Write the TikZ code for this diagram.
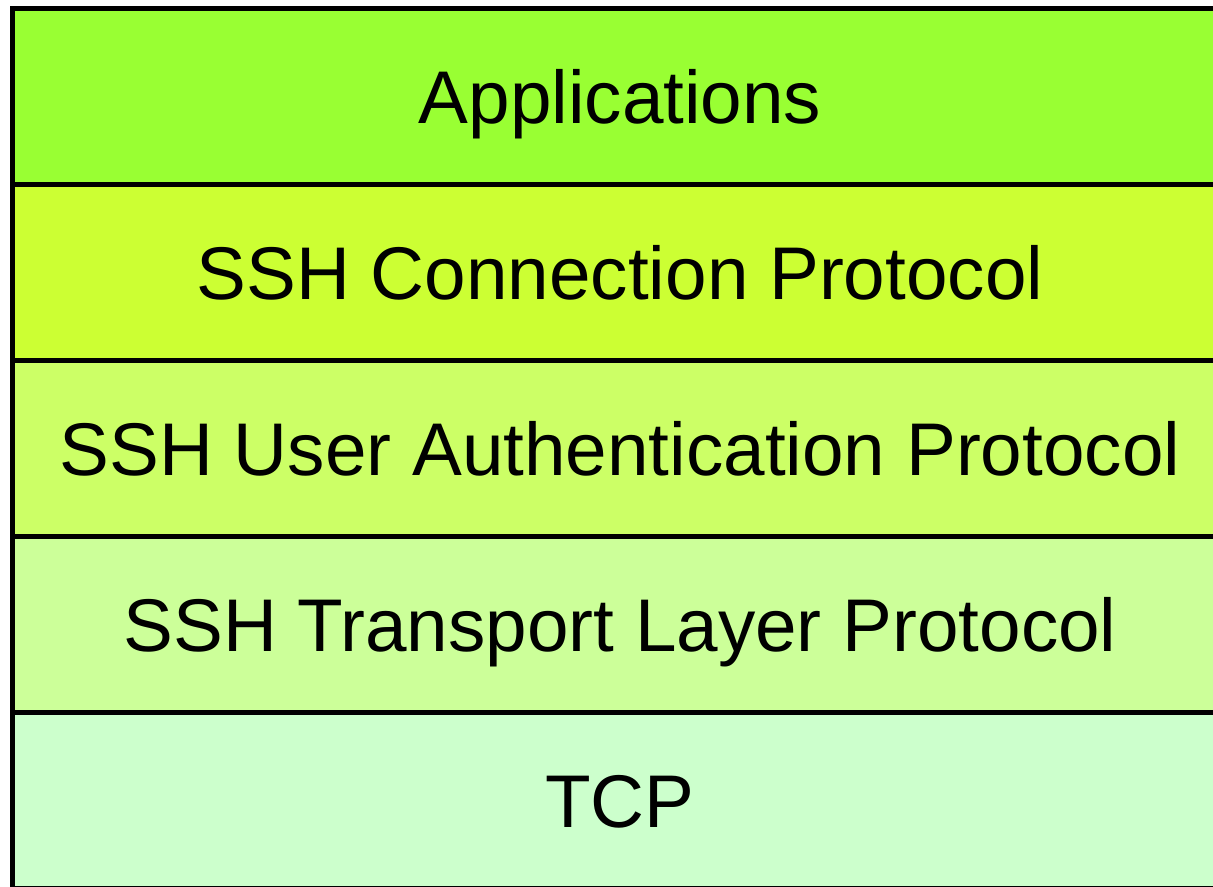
\documentclass[tikz,border=0pt]{standalone}
\usepackage{fontspec}
\setmainfont{Liberation Sans}
\definecolor{appgreen}{HTML}{99FF33}
\definecolor{conngreen}{HTML}{CCFF33}
\definecolor{authgreen}{HTML}{CCFF66}
\definecolor{transgreen}{HTML}{CCFF99}
\definecolor{tcpgreen}{HTML}{CCFFCC}
\begin{document}
\begin{tikzpicture}[x=0.75pt,y=-0.75pt,
  layer/.style={draw=black, line width=3.75pt, minimum width=912pt,
    minimum height=132pt, inner sep=0pt, outer sep=0pt, anchor=north west,
    font=\fontsize{56}{67}\selectfont, text height=40.1pt, text depth=0pt}]
\useasboundingbox (0,0) rectangle (1213,886);
\clip (0,0) rectangle (1213,886);
% protocol stack, top to bottom
\node[layer, fill=appgreen]   (app)   at (12,8.5)   {Applications};
\node[layer, fill=conngreen]  (conn)  at (12,184.5) {SSH Connection Protocol};
\node[layer, fill=authgreen]  (auth)  at (12,360.5) {SSH User Authentication Protocol};
\node[layer, fill=transgreen] (trans) at (12,536.5) {SSH Transport Layer Protocol};
\node[layer, fill=tcpgreen]   (tcp)   at (12,712.5) {TCP};
% redraw the shared borders on top of the fills
\draw[line width=3.75pt] (app.south west) -- (app.south east);
\draw[line width=3.75pt] (conn.south west) -- (conn.south east);
\draw[line width=3.75pt] (auth.south west) -- (auth.south east);
\draw[line width=3.75pt] (trans.south west) -- (trans.south east);
\end{tikzpicture}
\end{document}
